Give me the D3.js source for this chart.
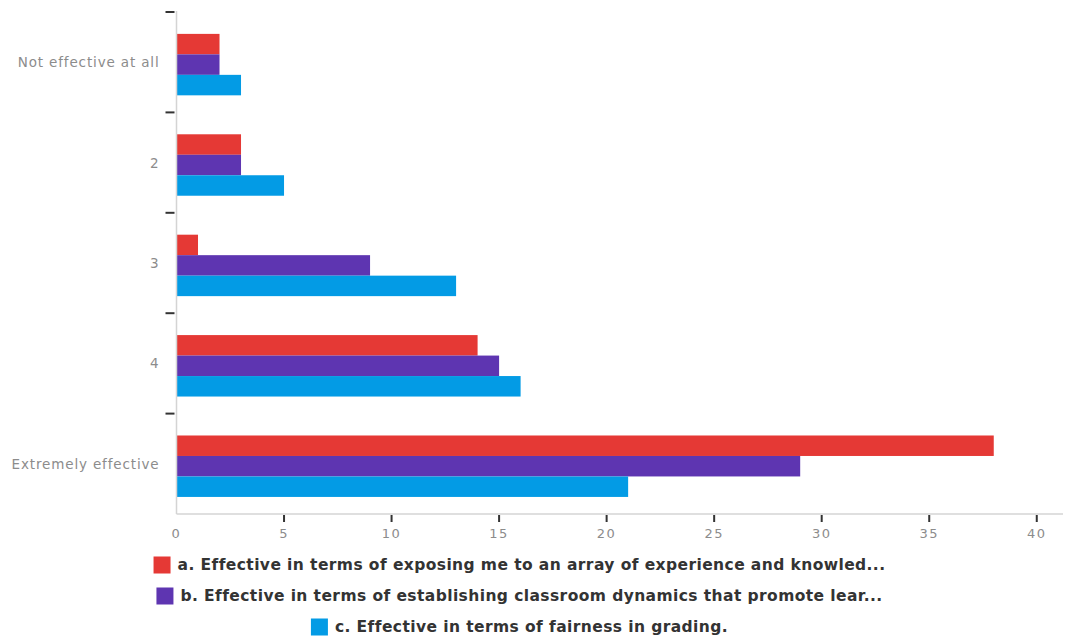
<!DOCTYPE html>
<html>
<head>
<meta charset="utf-8">
<script src="https://cdn.jsdelivr.net/npm/d3@7"></script>
<style>
  html, body { margin: 0; padding: 0; background: #fff; }
  svg { display: block; }
</style>
</head>
<body>
<svg id="chart" width="1065" height="638"></svg>
<script>
// Ratings, top to bottom
const categories = ["Not effective at all", "2", "3", "4", "Extremely effective"];

// Legend labels (as displayed, truncated)
const seriesNames = [
  "a. Effective in terms of exposing me to an array of experience and knowled...",
  "b. Effective in terms of establishing classroom dynamics that promote lear...",
  "c. Effective in terms of fairness in grading."
];

// Response counts per rating, one array per statement
const seriesA = [2, 3, 1, 14, 38];
const seriesB = [2, 3, 9, 15, 29];
const seriesC = [3, 5, 13, 16, 21];

const xTicks = [0, 5, 10, 15, 20, 25, 30, 35, 40];

const colors = ["#e53935", "#5e35b1", "#039be5"];
const seriesValues = [seriesA, seriesB, seriesC];
const seriesKeys = ["a", "b", "c"];

const FONT = "DejaVu Sans, Verdana, sans-serif";

const svg = d3.select("#chart");

const plotLeft = 176.5, plotRight = 1063, plotTop = 12, plotBottom = 514;

const x = d3.scaleLinear().domain([0, 41.22]).range([plotLeft, plotRight]);
const y = d3.scaleBand().domain(categories).range([plotTop, plotBottom]).paddingInner(0).paddingOuter(0);
const y1 = d3.scaleBand().domain(seriesKeys)
  .range([y.bandwidth() * 0.218, y.bandwidth() * 0.83]).padding(0);

// Bars
const groups = svg.append("g").selectAll("g")
  .data(categories)
  .join("g")
  .attr("transform", d => `translate(0,${y(d)})`);

groups.selectAll("rect")
  .data((cat, i) => seriesKeys.map((k, s) => ({ key: k, value: seriesValues[s][i], color: colors[s] })))
  .join("rect")
  .attr("x", x(0))
  .attr("y", d => y1(d.key))
  .attr("width", d => x(d.value) - x(0))
  .attr("height", y1.bandwidth())
  .attr("fill", d => d.color);

// Axis lines
svg.append("line")
  .attr("x1", x(0)).attr("x2", x(0))
  .attr("y1", plotTop - 1).attr("y2", plotBottom)
  .attr("stroke", "#d4d4d4").attr("stroke-width", 1.5);
svg.append("line")
  .attr("x1", x(0)).attr("x2", plotRight)
  .attr("y1", plotBottom).attr("y2", plotBottom)
  .attr("stroke", "#d4d4d4").attr("stroke-width", 1.5);

// Y ticks between categories
const yBoundaries = categories.map(c => y(c));
svg.append("g").selectAll("line")
  .data(yBoundaries)
  .join("line")
  .attr("x1", x(0) - 11).attr("x2", x(0) - 2)
  .attr("y1", d => d).attr("y2", d => d)
  .attr("stroke", "#333").attr("stroke-width", 2);

// Y labels
svg.append("g").selectAll("text")
  .data(categories)
  .join("text")
  .attr("x", x(0) - 17)
  .attr("y", d => y(d) + y.bandwidth() / 2 + 1)
  .attr("text-anchor", "end")
  .attr("dominant-baseline", "middle")
  .attr("font-family", FONT)
  .attr("font-size", 13.5)
  .attr("letter-spacing", 0.85)
  .attr("fill", "#8c8c8c")
  .text(d => d);

// X ticks
svg.append("g").selectAll("line")
  .data(xTicks.filter(t => t > 0))
  .join("line")
  .attr("x1", d => x(d)).attr("x2", d => x(d))
  .attr("y1", plotBottom + 1).attr("y2", plotBottom + 8)
  .attr("stroke", "#333").attr("stroke-width", 2);

svg.append("g").selectAll("text")
  .data(xTicks)
  .join("text")
  .attr("x", d => x(d))
  .attr("y", plotBottom + 20)
  .attr("text-anchor", "middle")
  .attr("dominant-baseline", "middle")
  .attr("font-family", FONT)
  .attr("font-size", 13)
  .attr("letter-spacing", 1.5)
  .attr("fill", "#8c8c8c")
  .text(d => d);

// Legend, each row centred
const legendCenter = 519.5;
const rowY = [565, 596, 627];
const sq = 17, gap = 7;
const legendFirstRowWidth = 707;

const legendRows = seriesNames.map((name, i) => {
  const g = svg.append("g");
  const t = g.append("text")
    .attr("x", sq + gap)
    .attr("y", 0)
    .attr("dominant-baseline", "middle")
    .attr("font-family", FONT)
    .attr("font-weight", "bold")
    .attr("font-size", 15.5)
    .attr("fill", "#333")
    .text(name);
  g.append("rect")
    .attr("x", 0).attr("y", -sq / 2)
    .attr("width", sq).attr("height", sq)
    .attr("fill", colors[i]);
  return { g, t, name };
});

// Shared letter spacing so the longest row spans its intended width
const natural = legendRows[0].t.node().getComputedTextLength();
const spacing = (legendFirstRowWidth - natural) / legendRows[0].name.length;
legendRows.forEach((r, i) => {
  r.t.attr("letter-spacing", spacing);
  const w = sq + gap + r.t.node().getComputedTextLength();
  r.g.attr("transform", `translate(${legendCenter - w / 2},${rowY[i]})`);
});
</script>
</body>
</html>
